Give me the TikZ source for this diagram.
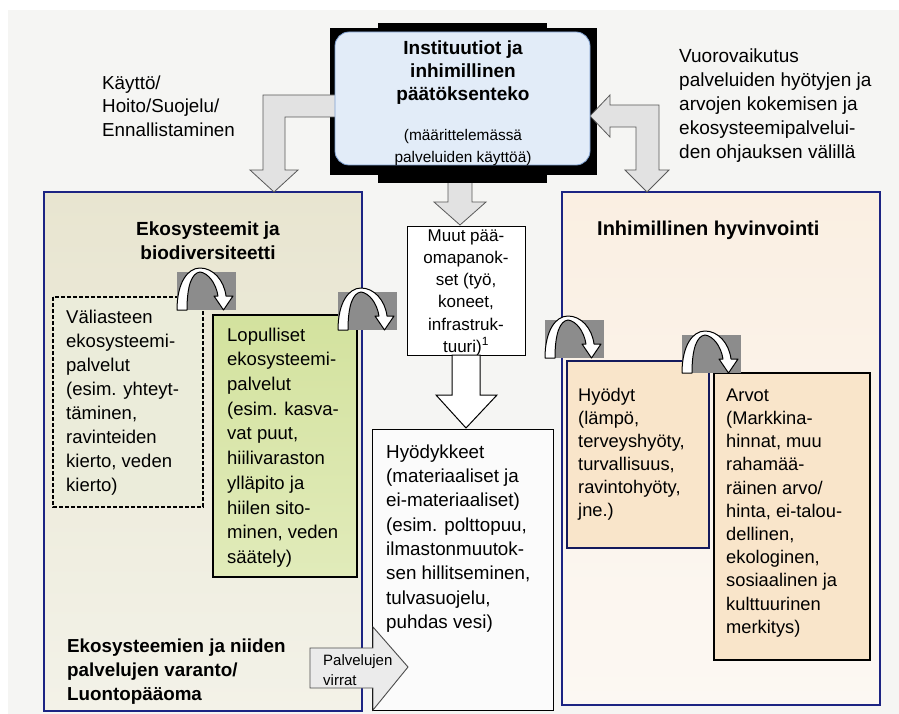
\documentclass[tikz,border=0pt]{standalone}
\usepackage{fontspec}
\setmainfont{Liberation Sans}
\definecolor{navy}{HTML}{1C2483}
\definecolor{bgray}{HTML}{F5F5F3}
\definecolor{beigeT}{HTML}{E8E5D0}
\definecolor{beigeB}{HTML}{F3F2E8}
\definecolor{peachT}{HTML}{FAEFE2}
\definecolor{peachB}{HTML}{FCF8F3}
\definecolor{peach}{HTML}{F9E5CA}
\definecolor{greenT}{HTML}{D3E29E}
\definecolor{greenB}{HTML}{E1EBBA}
\definecolor{dashfill}{HTML}{EBECDA}
\definecolor{blueT}{HTML}{E2ECF8}
\definecolor{blueline}{HTML}{7E9FCF}
\definecolor{agray}{HTML}{E2E2E2}
\definecolor{rgray}{HTML}{8C8C8C}
\newcommand\fsz[2]{\fontsize{#1}{#2}\selectfont}
\tikzset{
  curv/.pic={
    \fill[rgray] (0,0) rectangle (59,-38);
    \draw[line width=1pt, fill=white, line join=round] (0,0) .. controls (0,-28) and (11,-42) .. (23,-42) .. controls (36,-42) and (47,-30) .. (49,-14) -- (56,-14) -- (46.5,0) -- (37,-14) -- (41,-14) .. controls (39,-27) and (31,-37) .. (23,-38) .. controls (15,-37) and (10,-25) .. (10,0) -- cycle;
  },
  bigbox/.style={draw=navy, line width=1.5pt},
  blockarrow/.style={draw=black!65, line width=0.8pt, fill=agray, line join=miter},
  txt/.style={inner sep=0pt, anchor=north west, align=left},
  ctxt/.style={inner sep=0pt, anchor=north, align=center}
}
\begin{document}
\begin{tikzpicture}[x=1pt,y=-1pt]
\useasboundingbox (0,0) rectangle (899,714);
\fill[white] (0,0) rectangle (899,714);
\fill[bgray] (8,10) rectangle (899,714);

% big boxes
\draw[bigbox, top color=beigeT, bottom color=beigeB] (44,192) rectangle (362,711);
\draw[bigbox, top color=peachT, bottom color=peachB] (562,192) rectangle (880,705);

% top block
\draw[blockarrow] (448,178) -- (472,178) -- (472,202) -- (486,202) -- (460,225) -- (434,202) -- (448,202) -- cycle;
\fill[black] (330,28) rectangle (597,175);
\fill[black] (378,23) rectangle (547,183);
\draw[blockarrow] (340,95) -- (263,95) -- (263,170) -- (250,170) -- (274,192) -- (298,170) -- (285,170) -- (285,117) -- (340,117) -- cycle;
\draw[blockarrow] (590,116) -- (610,95) -- (610,105) -- (659,105) -- (659,170) -- (669,170) -- (647,192) -- (625,170) -- (636,170) -- (636,127) -- (610,127) -- (610,137) -- cycle;
\draw[blueline, line width=0.8pt, fill=blueT, rounded corners=14pt] (335,32) rectangle (590,165);
\node[ctxt, font=\bfseries\fsz{19}{23}] (inst) at (463,37.9) {\strut Instituutiot ja\\inhimillinen\\päätöksenteko};
\node[ctxt, font=\fsz{15.4}{22}] (instsub) at (463,124.6) {\strut (määrittelemässä\\palveluiden käyttöä)};

\node[txt, font=\fsz{18.8}{23.5}] (kaytto) at (102,72.5) {\strut Käyttö/\\Hoito/Suojelu/\\Ennallistaminen};
\node[txt, font=\fsz{19}{24}] (vuoro) at (679,45.2) {\strut Vuorovaikutus\\palveluiden hyötyjen ja\\arvojen kokemisen ja\\ekosysteemipalvelui-\\den ohjauksen välillä};

% left box content
\node[ctxt, font=\bfseries\fsz{19}{24}] (eko) at (208,218.2) {\strut Ekosysteemit ja\\biodiversiteetti};
\draw[line width=1.5pt, dash pattern=on 4pt off 2pt, fill=dashfill] (53,297) rectangle (203,507);
\node[txt, font=\fsz{18.5}{24}] (vali) at (66,306.2) {\strut Väliasteen\\ekosysteemi-\\palvelut\\(esim. yhteyt-\\täminen,\\ravinteiden\\kierto, veden\\kierto)};
\draw[line width=1.5pt, top color=greenT, bottom color=greenB] (213,315) rectangle (357,577);
\node[txt, font=\fsz{18.5}{24.7}] (lop) at (227,323.7) {\strut Lopulliset\\ekosysteemi-\\palvelut\\(esim. kasva-\\vat puut,\\hiilivaraston\\ylläpito ja\\hiilen sito-\\minen, veden\\säätely)};
\node[txt, font=\bfseries\fsz{18.8}{24}] (varanto) at (67,635.2) {\strut Ekosysteemien ja niiden\\palvelujen varanto/\\Luontopääoma};

% middle column
\draw[line width=1pt, fill=white] (407,226) rectangle (525,355);
\node[ctxt, font=\fsz{17}{22.2}] (muut) at (466,225.5) {\strut Muut pää-\\omapanok-\\set (työ,\\koneet,\\infrastruk-\\tuuri)\textsuperscript{1}};
\draw[line width=1pt, fill=white, line join=miter] (452,355) -- (480,355) -- (480,395) -- (497,395) -- (466,428) -- (436,395) -- (452,395) -- cycle;
\draw[line width=1pt, fill=white!97!gray] (372,429) rectangle (553,710);
\node[txt, font=\fsz{18.8}{24.3}] (hyodykkeet) at (386,441) {\strut Hyödykkeet\\(materiaaliset ja\\ei-materiaaliset)\\(esim. polttopuu,\\ilmastonmuutok-\\sen hillitseminen,\\tulvasuojelu,\\puhdas vesi)};

% right box content
\node[txt, font=\bfseries\fsz{20}{24}] (hyvin) at (597,218.2) {\strut Inhimillinen hyvinvointi};
\draw[draw=navy!70!black, line width=1.2pt, fill=peach] (567,361) rectangle (709,548);
\node[txt, font=\fsz{18.3}{23}] (hyodyt) at (578,384.9) {\strut Hyödyt\\(lämpö,\\terveyshyöty,\\turvallisuus,\\ravintohyöty,\\jne.)};
\draw[line width=1.5pt, fill=peach] (714,373) rectangle (870,660);
\node[txt, font=\fsz{18.3}{23.2}] (arvot) at (726,384.8) {\strut Arvot\\(Markkina-\\hinnat, muu\\rahamää-\\räinen arvo/\\hinta, ei-talou-\\dellinen,\\ekologinen,\\sosiaalinen ja\\kulttuurinen\\merkitys)};

% flows arrow
\draw[draw=black!70, line width=0.9pt, fill=black!8, line join=miter] (310,648) -- (373,648) -- (373,627) -- (408,667) -- (373,710) -- (373,688) -- (310,688) -- cycle;
\node[txt, font=\fsz{15}{20}] (virrat) at (323,651) {\strut Palvelujen\\virrat};

% curved arrows
\pic (ca1) at (177,310) {curv};
\pic (ca2) at (338,330) {curv};
\pic (ca3) at (545,358) {curv};
\pic (ca4) at (682,373) {curv};
\end{tikzpicture}
\end{document}
